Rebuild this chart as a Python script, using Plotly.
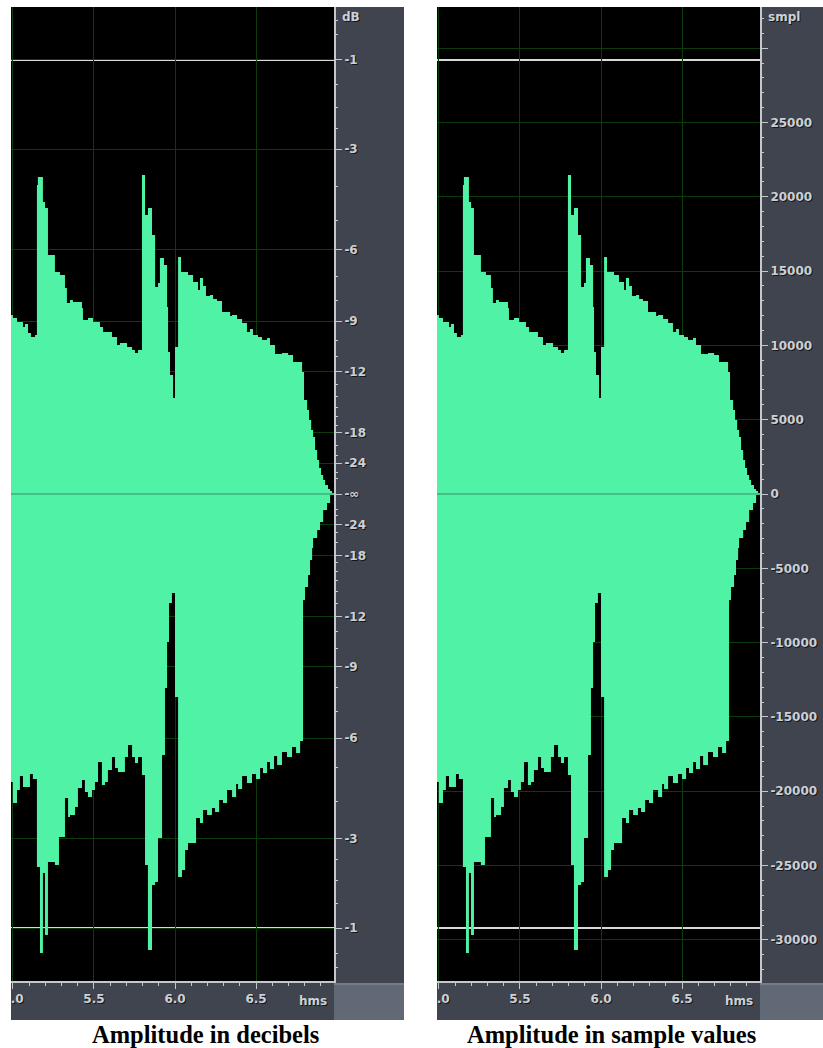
import plotly.graph_objects as go

# ---------------- data ----------------
# upper envelope: step start times (s) and peak sample values
upper_t = [4.988, 5.000, 5.025, 5.062, 5.074, 5.093, 5.111, 5.136, 5.148, 5.154,
           5.185, 5.198, 5.216, 5.259, 5.290, 5.321, 5.333, 5.352, 5.370, 5.426,
           5.432, 5.463, 5.494, 5.537, 5.556, 5.611, 5.642, 5.660, 5.704, 5.735,
           5.753, 5.772, 5.796, 5.815, 5.833, 5.858, 5.877, 5.895, 5.907, 5.932,
           5.951, 5.957, 5.969, 5.988, 6.000, 6.019, 6.037, 6.080, 6.111, 6.142,
           6.154, 6.173, 6.191, 6.216, 6.235, 6.259, 6.290, 6.340, 6.352, 6.383,
           6.414, 6.444, 6.463, 6.481, 6.512, 6.537, 6.568, 6.586, 6.617, 6.660,
           6.698, 6.728, 6.784, 6.796, 6.815, 6.827, 6.840, 6.852, 6.864, 6.877,
           6.889, 6.901, 6.914, 6.926, 6.944, 6.957, 6.969, 6.981]
upper_v = [12045, 11843, 11574, 11237, 11439, 10834, 10565, 10699, 20793, 21331,
           19649, 19245, 16082, 14938, 14736, 13862, 12852, 13054, 12920, 12516,
           11708, 11843, 11574, 11237, 10901, 10565, 10026, 10161, 9892, 9690,
           9488, 9690, 21466, 18774, 19245, 17428, 13929, 14198, 15880, 15409,
           12583, 9555, 8008, 6460, 9892, 15948, 14938, 14736, 14265, 13727,
           14535, 13996, 13323, 13391, 13122, 12987, 12247, 11978, 12045, 11776,
           11507, 10901, 11103, 10699, 10565, 10363, 10497, 10026, 9421, 9488,
           9353, 8882, 8209, 6325, 5652, 4979, 4307, 3836, 2961, 2288,
           1750, 1279, 942, 606, 336, 202, 67, 0]

# lower envelope: step start times (s) and trough sample values
lower_t = [4.988, 5.000, 5.025, 5.043, 5.062, 5.105, 5.123, 5.148, 5.167, 5.185,
           5.198, 5.216, 5.259, 5.284, 5.321, 5.340, 5.352, 5.383, 5.401, 5.426,
           5.444, 5.463, 5.488, 5.506, 5.525, 5.549, 5.568, 5.586, 5.611, 5.630,
           5.648, 5.691, 5.710, 5.735, 5.753, 5.772, 5.796, 5.815, 5.833, 5.858,
           5.877, 5.895, 5.920, 5.938, 5.951, 5.963, 5.981, 6.000, 6.019, 6.043,
           6.062, 6.080, 6.130, 6.154, 6.173, 6.198, 6.228, 6.247, 6.272, 6.296,
           6.321, 6.352, 6.377, 6.389, 6.414, 6.444, 6.475, 6.500, 6.525, 6.543,
           6.568, 6.586, 6.611, 6.630, 6.660, 6.691, 6.722, 6.747, 6.772, 6.790,
           6.802, 6.821, 6.833, 6.846, 6.852, 6.877, 6.895, 6.914, 6.938, 6.957,
           6.981]
lower_v = [-19379, -20793, -19918, -18976, -19716, -18841, -19178, -25099, -30886, -25503,
           -29675, -24763, -24965, -23080, -20456, -21735, -21600, -21062, -19783, -19245,
           -20052, -20389, -19918, -19379, -18034, -19581, -19379, -18572, -17697, -18437,
           -18707, -17697, -16890, -17697, -18101, -17697, -18908, -24965, -30684, -26310,
           -26108, -23148, -17563, -13054, -9959, -7335, -6662, -13660, -25772, -25301,
           -23955, -23484, -21802, -22138, -21264, -21600, -21129, -21398, -20591, -20793,
           -19918, -20389, -19514, -19850, -18976, -19447, -18841, -19178, -18437, -18774,
           -18034, -18505, -17630, -18235, -17361, -17697, -17024, -17428, -16621, -7133,
           -6258, -5450, -4441, -3634, -2961, -2422, -1884, -1077, -606, -67,
           0]

# axis tick labels
db_labels = [-1, -3, -6, -9, -12, -18, -24]
db_minor = [-0.25, -0.5, -1.5, -2, -2.5, -4, -5, -7, -8, -10, -11, -13, -14, -15,
            -16, -17, -20, -22, -27, -30]
smpl_labels = [30000, 25000, 20000, 15000, 10000, 5000, 0, -5000, -10000,
               -15000, -20000, -25000, -30000]
time_ticks = [5.0, 5.5, 6.0, 6.5]
time_labels = ["5.0", "5.5", "6.0", "6.5"]
FULL = 32768
T0, T1 = 4.988, 6.981

# ---------------- styles ----------------
W, H = 823, 1048
GREEN = "#50F2A6"
GRID = "#0b3d0b"
STRIP = "#3f444e"
CORNER = "#626976"
AXL = "#c4c8ce"
TXT = "#cdd0d5"
LFONT = dict(family="DejaVu Sans", size=12, color=TXT, weight="bold",
             shadow="1px 1px 0px #15171b")


def px(x):
    return x / W


def py(y):
    return 1 - y / H


db_pos = [FULL * 10 ** (d / 20) for d in db_labels]
db_tickvals = db_pos + [0] + [-p for p in db_pos]
db_ticktext = [str(d) for d in db_labels] + ["-\u221e"] + [str(d) for d in db_labels]
db_minor_pos = [FULL * 10 ** (d / 20) for d in db_minor]
db_minor_vals = db_minor_pos + [-p for p in db_minor_pos]

smpl_text = ["" if v == 30000 else str(v) for v in smpl_labels]
smpl_minor = [v for v in range(-32000, 33000, 1000) if v % 5000 != 0]

fig = go.Figure()

panels = [
    dict(xa="x", ya="y", x0=11, x1=334, sx=404, tv=db_tickvals, tt=db_ticktext,
         mv=db_minor_vals, unit="dB", cap="Amplitude in decibels", cx=205),
    dict(xa="x2", ya="y2", x0=437, x1=760, sx=830, tv=smpl_labels, tt=smpl_text,
         mv=smpl_minor, unit="smpl", cap="Amplitude in sample values", cx=611),
]

Y0, Y1 = 7, 981   # plot area top/bottom in px
SB = 1020         # bottom of time strip

shapes = []
annotations = []
for i, p in enumerate(panels):
    for tt, vv in ((upper_t, upper_v), (lower_t, lower_v)):
        fig.add_trace(go.Scatter(
            x=tt, y=vv, xaxis=p["xa"], yaxis=p["ya"], mode="lines",
            line=dict(width=0, shape="hv", color=GREEN), fill="tozeroy",
            fillcolor=GREEN, hoverinfo="skip", showlegend=False))

    sfx = "" if i == 0 else "2"
    xref = "x" + sfx
    yref = "y" + sfx
    sx1 = min(px(p["sx"]), 1.0)
    # grey strips
    shapes += [
        dict(type="rect", xref="paper", yref="paper", x0=px(p["x1"]), x1=sx1,
             y0=py(983), y1=py(Y0), fillcolor=STRIP, line_width=0, layer="below"),
        dict(type="rect", xref="paper", yref="paper", x0=px(p["x0"]), x1=px(p["x1"]),
             y0=py(SB), y1=py(983), fillcolor=STRIP, line_width=0, layer="below"),
        dict(type="rect", xref="paper", yref="paper", x0=px(p["x1"]), x1=sx1,
             y0=py(SB), y1=py(983), fillcolor=CORNER, line_width=0, layer="below"),
        dict(type="line", xref="paper", yref="paper", x0=px(p["x1"]), x1=sx1,
             y0=py(984), y1=py(984), line=dict(color="#8a909c", width=1), layer="below"),
    ]
    # -1 dB clip lines and centre line
    for v in (FULL * 10 ** (-1 / 20), -FULL * 10 ** (-1 / 20)):
        shapes.append(dict(type="line", xref=xref + " domain", yref=yref, x0=0, x1=1,
                           y0=v, y1=v, line=dict(color="#d9d9d9", width=2), layer="below"))
    shapes.append(dict(type="line", xref=xref + " domain", yref=yref, x0=0, x1=1,
                       y0=0, y1=0, line=dict(color="#3fae7c", width=1.5), layer="above"))
    # white cover to clip the "5.0" label at the left edge
    shapes.append(dict(type="rect", xref="paper", yref="paper", x0=px(p["x0"] - 16), x1=px(p["x0"]),
                       y0=py(SB + 2), y1=py(983), fillcolor="white", line_width=0, layer="above"))

    annotations += [
        dict(text=p["unit"], xref="paper", yref="paper", x=px(p["x1"] + 6), y=py(17),
             xanchor="left", yanchor="middle", showarrow=False, font=LFONT),
        dict(text="hms", xref="paper", yref="paper", x=px(p["x1"] - 5), y=py(1001),
             xanchor="right", yanchor="middle", showarrow=False, font=LFONT),
        dict(text="<b>" + p["cap"] + "</b>", xref="paper", yref="paper",
             x=px(p["cx"]), y=py(1034),
             xanchor="center", yanchor="middle", showarrow=False,
             font=dict(family="Liberation Serif", size=24.5, color="black")),
    ]

    xdom = [px(p["x0"]), px(p["x1"])]
    ydom = [py(Y1), py(Y0)]
    fig.update_layout(**{
        "xaxis" + sfx: dict(
            domain=xdom, range=[T0, T1], anchor=yref, side="bottom", automargin=False,
            tickvals=time_ticks, ticktext=time_labels, ticks="outside", ticklen=6,
            tickwidth=1, tickcolor=AXL, showline=True, linecolor=AXL, linewidth=2,
            showgrid=True, gridcolor=GRID, gridwidth=1, zeroline=False,
            tickfont=LFONT,
            minor=dict(dtick=0.1, tick0=5.0, ticks="outside", ticklen=3,
                       tickcolor=AXL, tickwidth=1, showgrid=False),
            fixedrange=True),
        "yaxis" + sfx: dict(
            domain=ydom, range=[-FULL, FULL], anchor=xref, side="right", automargin=False,
            tickmode="array", tickvals=p["tv"], ticktext=p["tt"], ticks="outside",
            ticklen=6, tickwidth=1, tickcolor=AXL, showline=True, linecolor=AXL,
            linewidth=2, showgrid=True, gridcolor=GRID, gridwidth=1, zeroline=False,
            tickfont=LFONT,
            minor=dict(tickvals=p["mv"], ticks="outside", ticklen=2, tickcolor=AXL,
                       tickwidth=1, showgrid=False),
            fixedrange=True),
    })

fig.update_layout(
    width=W, height=H, autosize=False,
    margin=dict(l=0, r=0, t=0, b=0),
    paper_bgcolor="white", plot_bgcolor="black",
    shapes=shapes, annotations=annotations, showlegend=False,
)

fig.write_html("out.html")
